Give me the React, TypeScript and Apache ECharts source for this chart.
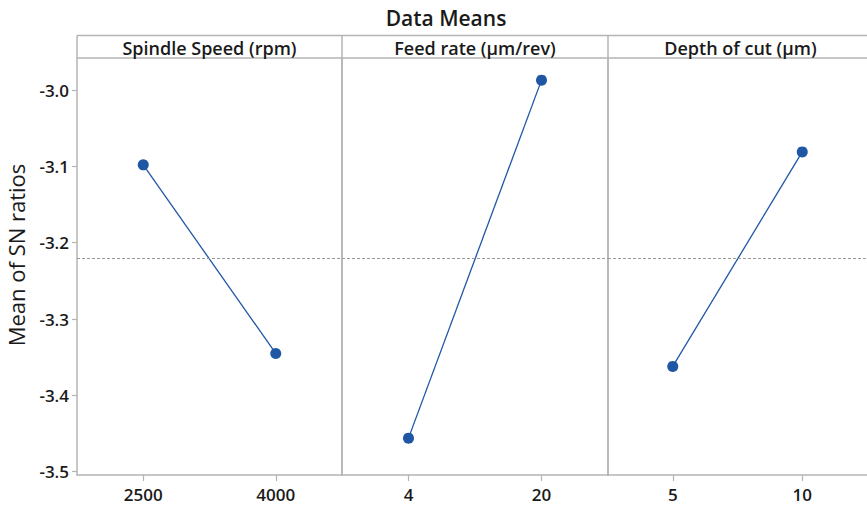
import React, { useEffect, useRef } from "react";
import * as echarts from "echarts";

const factorNames = ["Spindle Speed (rpm)", "Feed rate (µm/rev)", "Depth of cut (µm)"];
const spindleLevels = ["2500", "4000"];
const feedLevels = ["4", "20"];
const depthLevels = ["5", "10"];
const spindleMeans = [-3.098, -3.345];
const feedMeans = [-3.456, -2.987];
const depthMeans = [-3.362, -3.081];
const overallMean = -3.2215;
const yTicks = [-3.5, -3.4, -3.3, -3.2, -3.1, -3.0];

const FONT = "'Open Sans', 'Noto Sans', sans-serif";
const GRAY = "#b4b4b4";
const BLUE = "#1f57a5";
const TEXT = "#1a1a1a";

const panels = [
  { left: 77, width: 265 },
  { left: 342, width: 266 },
  { left: 608, width: 265 },
];
const TOP = 58;
const BOTTOM_Y = 475;
const STRIP_TOP = 35.5;

export default function App() {
  const ref = useRef<HTMLDivElement>(null);
  useEffect(() => {
    if (!ref.current) return;
    const chart = echarts.init(ref.current, null, { renderer: "svg" });
    const levels = [spindleLevels, feedLevels, depthLevels];
    const means = [spindleMeans, feedMeans, depthMeans];
    const H = 508;

    const grids = panels.map((p) => ({
      left: p.left,
      width: p.width,
      top: TOP,
      bottom: H - BOTTOM_Y,
      containLabel: false,
    }));

    const xAxes = levels.map((lv, i) => ({
      type: "category",
      gridIndex: i,
      data: lv,
      boundaryGap: true,
      axisLine: { show: true, lineStyle: { color: GRAY, width: 1.5 } },
      axisTick: { show: true, alignWithLabel: true, length: 6, lineStyle: { color: GRAY, width: 1.2 } },
      axisLabel: { color: TEXT, fontFamily: FONT, fontSize: 17, fontWeight: 600, margin: 11 },
      splitLine: { show: false },
    }));

    const yAxes = levels.map((_, i) => ({
      type: "value",
      gridIndex: i,
      min: -3.5043,
      max: -2.958,
      axisLine: { show: true, lineStyle: { color: GRAY, width: 1.5 } },
      axisTick: {
        show: i === 0,
        length: 5,
        customValues: yTicks,
        lineStyle: { color: GRAY, width: 1.2 },
      },
      axisLabel: {
        show: i === 0,
        customValues: yTicks,
        formatter: (v: number) => v.toFixed(1),
        color: TEXT,
        fontFamily: FONT,
        fontSize: 17,
        fontWeight: 600,
        margin: 8,
      },
      splitLine: { show: false },
    }));

    const series = means.map((m, i) => ({
      type: "line",
      xAxisIndex: i,
      yAxisIndex: i,
      data: m,
      symbol: "circle",
      symbolSize: 11,
      clip: false,
      lineStyle: { color: BLUE, width: 1.3 },
      itemStyle: { color: BLUE },
      markLine: {
        silent: true,
        symbol: ["none", "none"],
        label: { show: false },
        lineStyle: { color: "#9a9a9a", type: [3, 2], width: 1 },
        data: [{ yAxis: overallMean }],
      },
    }));

    const graphics: any[] = [
      {
        type: "text",
        x: 446,
        y: 18,
        style: {
          text: "Data Means",
          fill: TEXT,
          font: `600 21px ${FONT}`,
          align: "center",
          verticalAlign: "middle",
        },
      },
      // header strip
      {
        type: "line",
        shape: { x1: 77, y1: STRIP_TOP, x2: 880, y2: STRIP_TOP },
        style: { stroke: GRAY, lineWidth: 1.5 },
      },
      {
        type: "line",
        shape: { x1: 77, y1: TOP, x2: 880, y2: TOP },
        style: { stroke: GRAY, lineWidth: 1.5 },
      },
      {
        type: "line",
        shape: { x1: 77, y1: STRIP_TOP, x2: 77, y2: TOP },
        style: { stroke: GRAY, lineWidth: 1.5 },
      },
      {
        type: "text",
        rotation: Math.PI / 2,
        x: 16,
        y: 255,
        style: {
          text: "Mean of SN ratios",
          fill: TEXT,
          font: `500 22px ${FONT}`,
          align: "center",
          verticalAlign: "middle",
        },
      },
    ];
    panels.forEach((p, i) => {
      graphics.push({
        type: "text",
        x: p.left + p.width / 2,
        y: (STRIP_TOP + TOP) / 2 + 1,
        style: {
          text: factorNames[i],
          fill: TEXT,
          font: `600 18px ${FONT}`,
          align: "center",
          verticalAlign: "middle",
        },
      });
      if (i > 0) {
        graphics.push({
          type: "line",
          shape: { x1: p.left, y1: STRIP_TOP, x2: p.left, y2: BOTTOM_Y },
          style: { stroke: GRAY, lineWidth: 1.5 },
        });
      }
    });

    chart.setOption({
      animation: false,
      backgroundColor: "#ffffff",
      grid: grids,
      xAxis: xAxes,
      yAxis: yAxes,
      series,
      graphic: graphics,
    });
    return () => chart.dispose();
  }, []);

  return (
    <div
      ref={ref}
      style={{ position: "fixed", top: 0, left: 0, width: 867, height: 508, overflow: "hidden" }}
    />
  );
}
